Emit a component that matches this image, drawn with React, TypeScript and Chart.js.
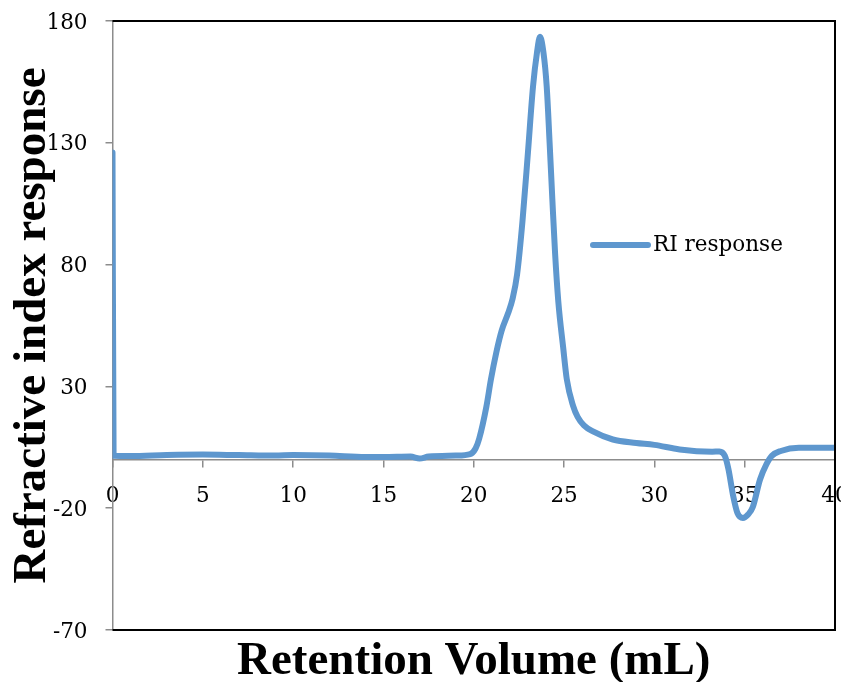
import { useEffect, useRef } from "react";
import { Chart, registerables } from "chart.js";

Chart.register(...registerables);

// Chromatogram trace: retention volume (mL) vs refractive index response
const retentionVolume = [
  0, 0.06, 1, 3, 5, 7, 9, 10, 12, 14, 15, 16.5, 17, 17.5, 19, 19.8, 20.1, 20.3,
  20.7, 20.95, 21.25, 21.55, 21.9, 22.15, 22.4, 22.7, 23.0, 23.28, 23.5, 23.67,
  23.86, 24.04, 24.2, 24.35, 24.5, 24.68, 24.95, 25.15, 25.5, 25.75, 26.1, 26.6,
  27.7, 29, 30, 31.4, 33.2, 33.6, 33.9, 34.1, 34.35, 34.6, 34.9, 35.2, 35.45,
  35.85, 36.2, 36.5, 37.0, 38.0, 40,
];
const riResponse = [
  126, 1.5, 1.4, 1.8, 2.0, 1.8, 1.6, 1.8, 1.6, 1.0, 1.0, 1.2, 0.4, 1.2, 1.6, 2.2,
  4.5, 8.5, 21.7, 32.8, 44, 53, 60, 66, 76, 98, 126, 153, 167, 173.5, 167, 153,
  130, 107, 85, 65, 46, 33, 22, 17.5, 14, 11.5, 8.2, 6.8, 6.0, 4.1, 3.2, 3.3,
  1.5, -4, -14.5, -22, -24, -22.5, -19.5, -8.2, -2, 1.5, 3.5, 4.8, 4.8,
];

const xTicks = [0, 5, 10, 15, 20, 25, 30, 35, 40];
const yTicks = [-70, -20, 30, 80, 130, 180];

const seriesLabel = "RI response";
const xTitle = "Retention Volume (mL)";
const yTitle = "Refractive index response";

const lineColor = "#5E97CE";
const axisGray = "#8c8c8c";
const tickFont = { family: "'DejaVu Serif'", size: 21.5 };

// Plot frame, axis titles and the in-plot legend
const decorations = {
  id: "decorations",
  afterDraw(chart: any) {
    const { ctx, chartArea: a } = chart;
    ctx.save();
    ctx.strokeStyle = "#000";
    ctx.lineWidth = 2;
    ctx.beginPath();
    ctx.moveTo(a.left, a.top);
    ctx.lineTo(a.right, a.top);
    ctx.lineTo(a.right, a.bottom);
    ctx.lineTo(a.left, a.bottom);
    ctx.stroke();

    ctx.fillStyle = "#000";
    ctx.font = "bold 47px 'Liberation Serif'";
    ctx.textAlign = "center";
    ctx.textBaseline = "middle";
    ctx.fillText(xTitle, (a.left + a.right) / 2, a.bottom + 32);

    ctx.save();
    ctx.translate(25, (a.top + a.bottom) / 2);
    ctx.rotate(-Math.PI / 2);
    ctx.fillText(yTitle, 0, 0);
    ctx.restore();

    // legend entry
    const ds = chart.data.datasets[0];
    const ly = 237;
    ctx.strokeStyle = ds.borderColor;
    ctx.lineWidth = 6;
    ctx.lineCap = "round";
    ctx.beginPath();
    ctx.moveTo(585, ly);
    ctx.lineTo(640, ly);
    ctx.stroke();
    ctx.font = `${tickFont.size}px ${tickFont.family}`;
    ctx.textAlign = "left";
    ctx.fillText(ds.label, 645, ly);
    ctx.restore();
  },
};

export default function App() {
  const canvasRef = useRef<HTMLCanvasElement | null>(null);

  useEffect(() => {
    if (!canvasRef.current) return;
    const points = retentionVolume.map((x, i) => ({ x, y: riResponse[i] }));
    const chart = new Chart(canvasRef.current, {
      type: "line",
      data: {
        datasets: [
          {
            label: seriesLabel,
            data: points,
            borderColor: lineColor,
            backgroundColor: lineColor,
            borderWidth: 6,
            pointRadius: 0,
            cubicInterpolationMode: "monotone",
            borderJoinStyle: "round",
            borderCapStyle: "round",
          },
        ],
      },
      options: {
        animation: false,
        responsive: true,
        maintainAspectRatio: false,
        layout: { padding: { left: 0, top: 13, right: 14, bottom: 52 } },
        plugins: {
          legend: { display: false },
          tooltip: { enabled: false },
        },
        scales: {
          x: {
            type: "linear",
            position: { y: 0 },
            min: 0,
            max: 40,
            afterBuildTicks: (s: any) => {
              s.ticks = xTicks.map((v) => ({ value: v }));
            },
            afterFit: (s: any) => {
              s.paddingLeft = 0;
              s.paddingRight = 0;
            },
            grid: {
              drawOnChartArea: false,
              drawTicks: true,
              tickLength: 7,
              color: axisGray,
              lineWidth: 1.5,
            },
            border: { display: true, color: axisGray, width: 1.5 },
            ticks: {
              font: tickFont,
              color: "#000",
              padding: 17,
              maxRotation: 0,
              autoSkip: false,
            },
          },
          y: {
            type: "linear",
            position: "left",
            min: -70,
            max: 180,
            afterBuildTicks: (s: any) => {
              s.ticks = yTicks.map((v) => ({ value: v }));
            },
            afterFit: (s: any) => {
              s.width = 104.5;
              s.paddingTop = 0;
              s.paddingBottom = 0;
            },
            grid: {
              drawOnChartArea: false,
              drawTicks: true,
              tickLength: 7,
              color: axisGray,
              lineWidth: 1.5,
            },
            border: { display: true, color: axisGray, width: 1.5 },
            ticks: {
              font: tickFont,
              color: "#000",
              padding: 18,
              labelOffset: 2,
              autoSkip: false,
            },
          },
        },
      },
      plugins: [decorations],
    });
    return () => chart.destroy();
  }, []);

  return (
    <div style={{ position: "relative", width: "841px", height: "674px" }}>
      <canvas ref={canvasRef} />
    </div>
  );
}
